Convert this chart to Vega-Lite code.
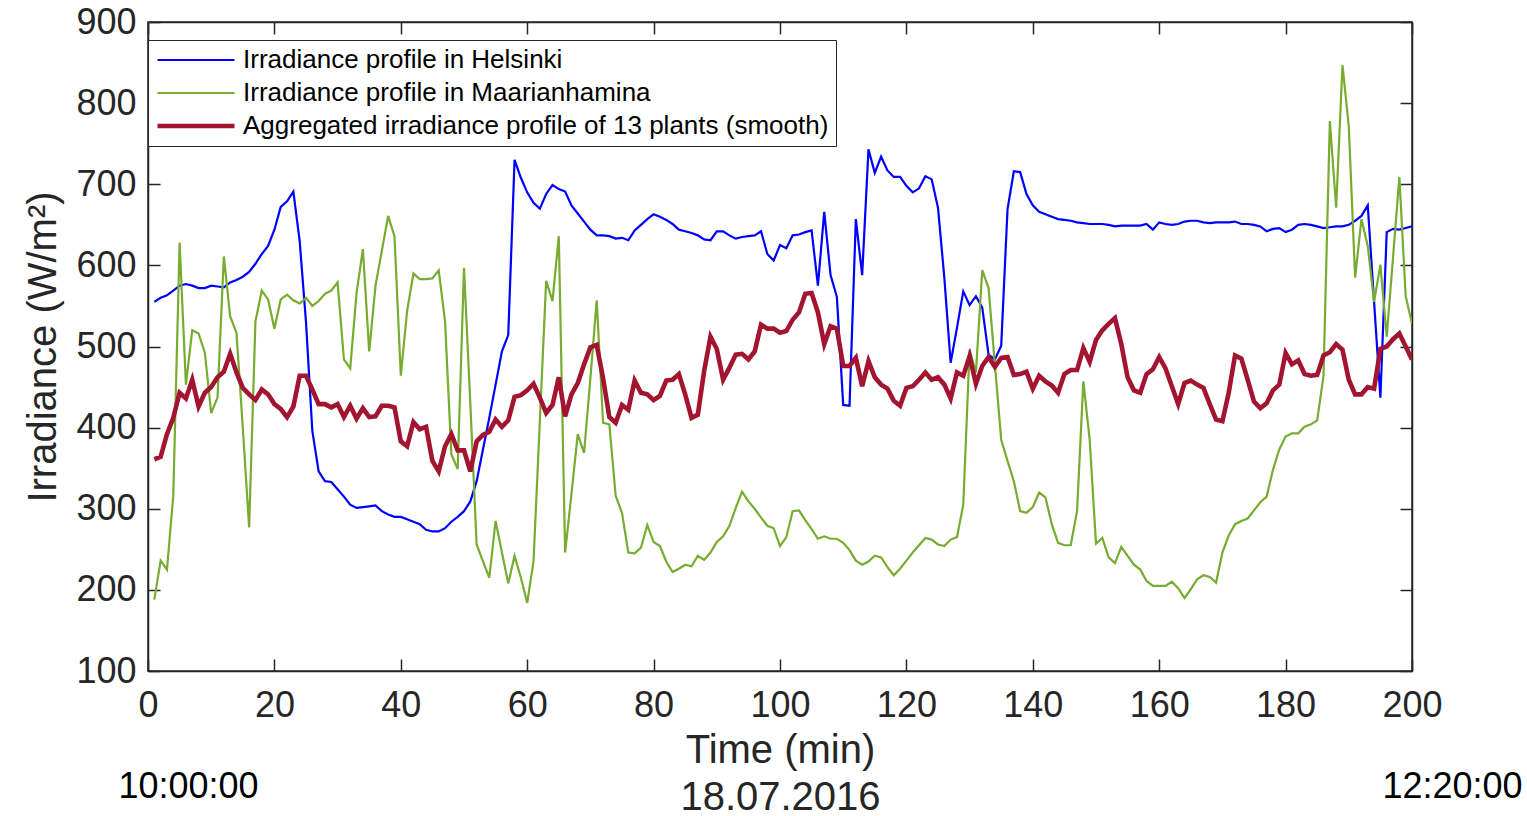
{
"$schema": "https://vega.github.io/schema/vega-lite/v6.json",
"width": 1264, "height": 649,
"autosize": {"type": "none"},
"padding": {"left": 148, "top": 22, "right": 115, "bottom": 145},
"background": "white",
"config": {
  "font": "Liberation Sans",
  "view": {"stroke": "#262626", "strokeWidth": 1.5},
  "axis": {"grid": false, "domainColor": "#262626", "domainWidth": 1.5, "tickColor": "#262626", "tickWidth": 1.5, "labelColor": "#262626", "titleColor": "#262626", "labelFont": "Liberation Sans", "titleFont": "Liberation Sans", "titleFontWeight": "normal", "labelFontSize": 36, "titleFontSize": 40}
},
"data": {"values": [
{"t":1,"a":555,"b":188,"c":361},{"t":2,"a":560,"b":236,"c":364},{"t":3,"a":563,"b":225,"c":392},{"t":4,"a":569,"b":316,"c":412},{"t":5,"a":575,"b":628,"c":443},
{"t":6,"a":577,"b":453,"c":436},{"t":7,"a":575,"b":520,"c":459},{"t":8,"a":572,"b":516,"c":426},{"t":9,"a":572,"b":492,"c":443},{"t":10,"a":575,"b":418,"c":450},
{"t":11,"a":574,"b":437,"c":462},{"t":12,"a":573,"b":611,"c":469},{"t":13,"a":579,"b":537,"c":491},{"t":14,"a":582,"b":517,"c":468},{"t":15,"a":586,"b":400,"c":449},
{"t":16,"a":592,"b":277,"c":441},{"t":17,"a":602,"b":531,"c":434},{"t":18,"a":614,"b":569,"c":447},{"t":19,"a":624,"b":558,"c":441},{"t":20,"a":644,"b":522,"c":429},
{"t":21,"a":672,"b":558,"c":423},{"t":22,"a":679,"b":564,"c":413},{"t":23,"a":691,"b":557,"c":426},{"t":24,"a":630,"b":553,"c":464},{"t":25,"a":530,"b":560,"c":464},
{"t":26,"a":396,"b":550,"c":447},{"t":27,"a":346,"b":556,"c":429},{"t":28,"a":334,"b":565,"c":429},{"t":29,"a":333,"b":569,"c":425},{"t":30,"a":324,"b":579,"c":429},
{"t":31,"a":315,"b":484,"c":413},{"t":32,"a":305,"b":473,"c":427},{"t":33,"a":301,"b":566,"c":411},{"t":34,"a":302,"b":620,"c":424},{"t":35,"a":303,"b":494,"c":413},
{"t":36,"a":304,"b":575,"c":414},{"t":37,"a":297,"b":618,"c":427},{"t":38,"a":293,"b":661,"c":427},{"t":39,"a":290,"b":636,"c":425},{"t":40,"a":290,"b":464,"c":383},
{"t":41,"a":287,"b":544,"c":377},{"t":42,"a":284,"b":590,"c":407},{"t":43,"a":281,"b":583,"c":398},{"t":44,"a":274,"b":583,"c":401},{"t":45,"a":272,"b":584,"c":359},
{"t":46,"a":272,"b":594,"c":346},{"t":47,"a":276,"b":531,"c":377},{"t":48,"a":284,"b":367,"c":392},{"t":49,"a":290,"b":349,"c":372},{"t":50,"a":297,"b":597,"c":372},
{"t":51,"a":309,"b":430,"c":346},{"t":52,"a":334,"b":256,"c":383},{"t":53,"a":373,"b":235,"c":391},{"t":54,"a":412,"b":215,"c":395},{"t":55,"a":453,"b":285,"c":410},
{"t":56,"a":494,"b":246,"c":401},{"t":57,"a":514,"b":208,"c":409},{"t":58,"a":730,"b":242,"c":438},{"t":59,"a":708,"b":215,"c":440},{"t":60,"a":690,"b":184,"c":446},
{"t":61,"a":677,"b":235,"c":454},{"t":62,"a":670,"b":408,"c":437},{"t":63,"a":688,"b":581,"c":418},{"t":64,"a":699,"b":556,"c":428},{"t":65,"a":694,"b":636,"c":462},
{"t":66,"a":691,"b":246,"c":414},{"t":67,"a":674,"b":318,"c":441},{"t":68,"a":664,"b":392,"c":455},{"t":69,"a":654,"b":369,"c":478},{"t":70,"a":644,"b":461,"c":499},
{"t":71,"a":637,"b":557,"c":502},{"t":72,"a":637,"b":406,"c":461},{"t":73,"a":636,"b":404,"c":413},{"t":74,"a":633,"b":316,"c":406},{"t":75,"a":634,"b":295,"c":428},
{"t":76,"a":631,"b":246,"c":422},{"t":77,"a":643,"b":245,"c":458},{"t":78,"a":650,"b":252,"c":443},{"t":79,"a":657,"b":280,"c":441},{"t":80,"a":663,"b":259,"c":434},
{"t":81,"a":660,"b":254,"c":439},{"t":82,"a":656,"b":235,"c":458},{"t":83,"a":651,"b":222,"c":459},{"t":84,"a":644,"b":226,"c":466},{"t":85,"a":642,"b":231,"c":441},
{"t":86,"a":640,"b":229,"c":412},{"t":87,"a":637,"b":242,"c":416},{"t":88,"a":632,"b":237,"c":470},{"t":89,"a":631,"b":246,"c":512},{"t":90,"a":642,"b":259,"c":497},
{"t":91,"a":642,"b":266,"c":459},{"t":92,"a":637,"b":279,"c":474},{"t":93,"a":633,"b":301,"c":490},{"t":94,"a":635,"b":321,"c":491},{"t":95,"a":636,"b":309,"c":484},
{"t":96,"a":637,"b":300,"c":494},{"t":97,"a":642,"b":289,"c":527},{"t":98,"a":614,"b":279,"c":522},{"t":99,"a":606,"b":276,"c":522},{"t":100,"a":625,"b":254,"c":517},
{"t":101,"a":621,"b":265,"c":519},{"t":102,"a":637,"b":297,"c":533},{"t":103,"a":638,"b":298,"c":542},{"t":104,"a":641,"b":286,"c":565},{"t":105,"a":643,"b":275,"c":566},
{"t":106,"a":575,"b":263,"c":542},{"t":107,"a":666,"b":266,"c":503},{"t":108,"a":588,"b":263,"c":525},{"t":109,"a":561,"b":263,"c":522},{"t":110,"a":428,"b":258,"c":476},
{"t":111,"a":427,"b":249,"c":476},{"t":112,"a":657,"b":236,"c":486},{"t":113,"a":588,"b":231,"c":451},{"t":114,"a":743,"b":235,"c":482},{"t":115,"a":714,"b":242,"c":462},
{"t":116,"a":734,"b":240,"c":453},{"t":117,"a":717,"b":228,"c":448},{"t":118,"a":709,"b":218,"c":433},{"t":119,"a":709,"b":226,"c":427},{"t":120,"a":698,"b":236,"c":449},
{"t":121,"a":690,"b":246,"c":451},{"t":122,"a":695,"b":255,"c":459},{"t":123,"a":710,"b":264,"c":468},{"t":124,"a":706,"b":262,"c":459},{"t":125,"a":671,"b":256,"c":462},
{"t":126,"a":585,"b":254,"c":453},{"t":127,"a":480,"b":262,"c":436},{"t":128,"a":523,"b":265,"c":468},{"t":129,"a":568,"b":305,"c":464},{"t":130,"a":551,"b":496,"c":488},
{"t":131,"a":562,"b":468,"c":454},{"t":132,"a":548,"b":594,"c":476},{"t":133,"a":490,"b":572,"c":487},{"t":134,"a":484,"b":478,"c":475},{"t":135,"a":501,"b":385,"c":486},
{"t":136,"a":669,"b":359,"c":487},{"t":137,"a":716,"b":334,"c":465},{"t":138,"a":715,"b":297,"c":466},{"t":139,"a":688,"b":295,"c":469},{"t":140,"a":674,"b":302,"c":448},
{"t":141,"a":666,"b":320,"c":464},{"t":142,"a":663,"b":314,"c":457},{"t":143,"a":660,"b":281,"c":452},{"t":144,"a":657,"b":258,"c":443},{"t":145,"a":656,"b":255,"c":466},
{"t":146,"a":655,"b":255,"c":471},{"t":147,"a":653,"b":297,"c":471},{"t":148,"a":652,"b":457,"c":498},{"t":149,"a":651,"b":385,"c":481},{"t":150,"a":651,"b":257,"c":508},
{"t":151,"a":651,"b":264,"c":520},{"t":152,"a":650,"b":240,"c":528},{"t":153,"a":648,"b":233,"c":535},{"t":154,"a":649,"b":253,"c":503},{"t":155,"a":649,"b":242,"c":462},
{"t":156,"a":649,"b":231,"c":446},{"t":157,"a":649,"b":225,"c":443},{"t":158,"a":651,"b":211,"c":466},{"t":159,"a":644,"b":205,"c":472},{"t":160,"a":653,"b":205,"c":487},
{"t":161,"a":651,"b":205,"c":473},{"t":162,"a":650,"b":210,"c":451},{"t":163,"a":651,"b":202,"c":429},{"t":164,"a":654,"b":190,"c":455},{"t":165,"a":655,"b":201,"c":458},
{"t":166,"a":655,"b":213,"c":453},{"t":167,"a":653,"b":218,"c":449},{"t":168,"a":652,"b":216,"c":429},{"t":169,"a":653,"b":209,"c":410},{"t":170,"a":653,"b":246,"c":408},
{"t":171,"a":653,"b":267,"c":443},{"t":172,"a":654,"b":281,"c":489},{"t":173,"a":651,"b":285,"c":485},{"t":174,"a":651,"b":288,"c":459},{"t":175,"a":650,"b":298,"c":432},
{"t":176,"a":648,"b":308,"c":424},{"t":177,"a":642,"b":315,"c":430},{"t":178,"a":645,"b":348,"c":446},{"t":179,"a":646,"b":373,"c":453},{"t":180,"a":641,"b":389,"c":492},
{"t":181,"a":644,"b":393,"c":478},{"t":182,"a":650,"b":393,"c":483},{"t":183,"a":651,"b":401,"c":466},{"t":184,"a":650,"b":404,"c":464},{"t":185,"a":648,"b":409,"c":465},
{"t":186,"a":646,"b":464,"c":489},{"t":187,"a":647,"b":778,"c":493},{"t":188,"a":648,"b":671,"c":503},{"t":189,"a":648,"b":847,"c":496},{"t":190,"a":650,"b":771,"c":459},
{"t":191,"a":655,"b":585,"c":441},{"t":192,"a":661,"b":657,"c":441},{"t":193,"a":674,"b":624,"c":450},{"t":194,"a":555,"b":555,"c":448},{"t":195,"a":437,"b":601,"c":497},
{"t":196,"a":641,"b":512,"c":500},{"t":197,"a":645,"b":610,"c":509},{"t":198,"a":644,"b":709,"c":516},{"t":199,"a":646,"b":562,"c":500},{"t":200,"a":648,"b":528,"c":484}
]},
"layer": [
  {
    "transform": [{"fold": ["a", "b", "c"], "as": ["series", "irr"]}],
    "mark": {"type": "line", "clip": true},
    "encoding": {
      "x": {"field": "t", "type": "quantitative", "scale": {"domain": [0, 200], "nice": false},
        "axis": {"values": [0,20,40,60,80,100,120,140,160,180,200], "tickSize": -12, "labelPadding": 29, "labelFlush": false, "labelOverlap": false,
          "title": ["Time (min)", "18.07.2016"], "titleLineHeight": 47, "titlePadding": 7}},
      "y": {"field": "irr", "type": "quantitative", "scale": {"domain": [100, 900], "nice": false, "zero": false},
        "axis": {"values": [100,200,300,400,500,600,700,800,900], "tickSize": -12, "labelPadding": 24, "labelFlush": false, "labelOverlap": false,
          "title": "Irradiance (W/m²)", "titlePadding": 12}},
      "color": {"field": "series", "type": "nominal",
        "scale": {"domain": ["a", "b", "c"], "range": ["#0000FF", "#77AC30", "#A2142F"]},
        "legend": {"title": null, "orient": "none", "legendX": 0, "legendY": 18, "direction": "vertical",
          "symbolType": "stroke", "symbolSize": 5929, "clipHeight": 26, "labelFontSize": 26, "labelFont": "Liberation Sans", "labelColor": "black",
          "labelOffset": 6, "rowPadding": 7, "padding": 7, "labelLimit": 0, "strokeColor": "#262626", "fillColor": "white",
          "labelExpr": "datum.label == 'a' ? 'Irradiance profile in Helsinki' : datum.label == 'b' ? 'Irradiance profile in Maarianhamina' : 'Aggregated irradiance profile of 13 plants (smooth)'"}},
      "strokeWidth": {"field": "series", "type": "nominal",
        "scale": {"type": "ordinal", "domain": ["a", "b", "c"], "range": [2.2, 2.2, 4.6]},
        "legend": {"title": null, "orient": "none", "legendX": 0, "legendY": 18, "direction": "vertical",
          "symbolType": "stroke", "symbolSize": 5929, "clipHeight": 26, "labelFontSize": 26, "labelFont": "Liberation Sans", "labelColor": "black",
          "labelOffset": 6, "rowPadding": 7, "padding": 7, "labelLimit": 0, "strokeColor": "#262626", "fillColor": "white",
          "labelExpr": "datum.label == 'a' ? 'Irradiance profile in Helsinki' : datum.label == 'b' ? 'Irradiance profile in Maarianhamina' : 'Aggregated irradiance profile of 13 plants (smooth)'"}}
    }
  },
  {
    "mark": {"type": "point", "opacity": 0},
    "encoding": {
      "x": {"field": "t", "type": "quantitative", "scale": {"domain": [0, 200], "nice": false},
        "axis": {"orient": "top", "values": [0,20,40,60,80,100,120,140,160,180,200], "tickSize": -12, "labels": false, "title": null}},
      "y": {"field": "a", "type": "quantitative", "scale": {"domain": [100, 900], "nice": false, "zero": false},
        "axis": {"orient": "right", "values": [100,200,300,400,500,600,700,800,900], "tickSize": -12, "labels": false, "title": null}}
    }
  },
  {
    "mark": {"type": "point", "opacity": 0},
    "encoding": {
      "x": {"field": "t", "type": "quantitative", "scale": {"domain": [0, 200], "nice": false},
        "axis": {"orient": "bottom", "values": [0, 200], "ticks": false, "domain": false, "labelPadding": 98, "labelOffset": 40,
          "labelFlush": false, "labelOverlap": false, "labelFontSize": 36, "labelColor": "black", "title": null,
          "labelExpr": "datum.value == 0 ? '10:00:00' : '12:20:00'"}}
    }
  }
],
"resolve": {"axis": {"x": "independent", "y": "independent"}}
}
